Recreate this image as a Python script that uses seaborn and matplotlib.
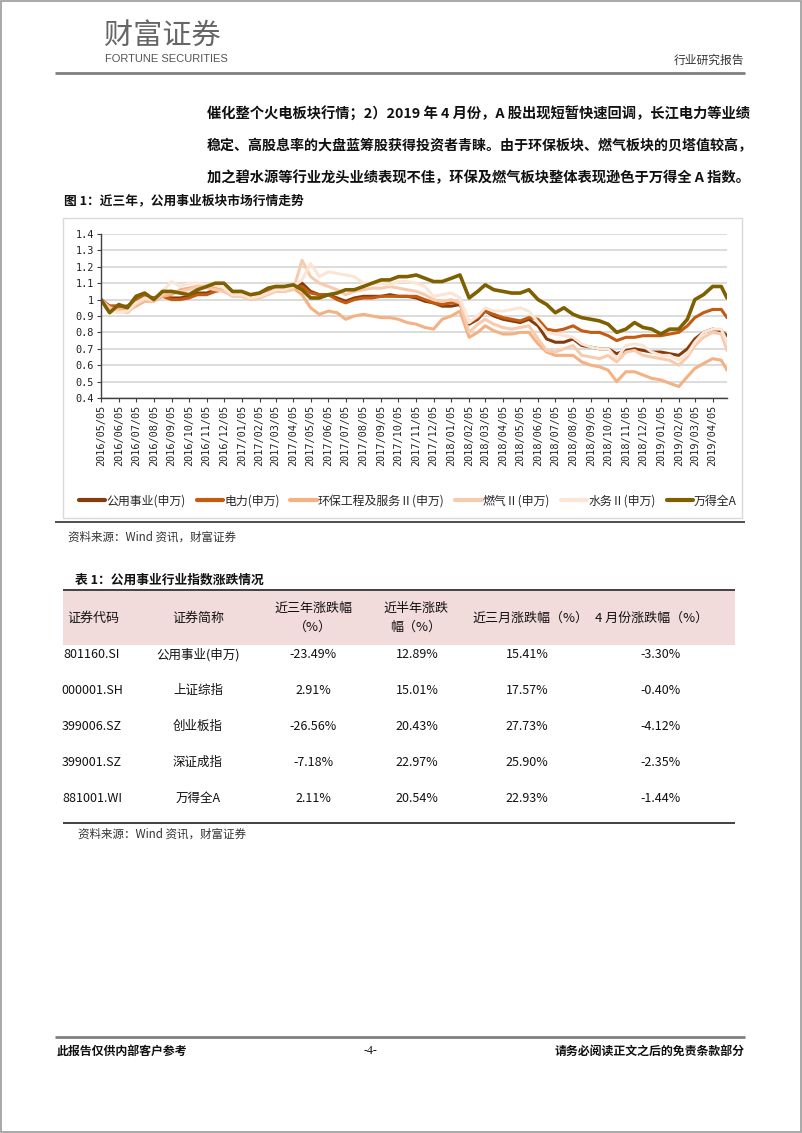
import numpy as np
import pandas as pd
import matplotlib
matplotlib.use("Agg")
import matplotlib.pyplot as plt
import seaborn as sns
from matplotlib.patches import Rectangle
from matplotlib.lines import Line2D

# ---------------- data ----------------
# semi-monthly sample dates (5th and 20th of each month) + last trading day
start = pd.Timestamp("2016-05-05")
dates = []
for k in range(36):
    d = start + pd.DateOffset(months=k)
    dates.append(d)
    dates.append(d + pd.Timedelta(days=15))
dates.append(pd.Timestamp("2019-04-30"))

series_names = ["公用事业(申万)", "电力(申万)", "环保工程及服务Ⅱ(申万)", "燃气Ⅱ(申万)", "水务Ⅱ(申万)", "万得全A"]

gongyong = [1.00, 0.96, 0.96, 0.96, 1.00, 1.02, 1.01, 1.03, 1.01, 1.01, 1.02, 1.04,
            1.04, 1.06, 1.06, 1.04, 1.03, 1.02, 1.03, 1.05, 1.06, 1.06, 1.07, 1.10,
            1.05, 1.03, 1.03, 1.01, 0.99, 1.01, 1.02, 1.02, 1.02, 1.03, 1.02, 1.02,
            1.01, 0.99, 0.98, 0.96, 0.96, 0.97, 0.85, 0.88, 0.93, 0.90, 0.88, 0.87,
            0.86, 0.88, 0.84, 0.76, 0.74, 0.74, 0.76, 0.72, 0.71, 0.70, 0.70, 0.67,
            0.69, 0.70, 0.69, 0.68, 0.68, 0.67, 0.66, 0.70, 0.76, 0.80, 0.82, 0.81,
            0.78]
dianli = [1.00, 0.96, 0.96, 0.95, 1.00, 1.02, 1.01, 1.02, 1.00, 1.00, 1.01, 1.03,
          1.03, 1.05, 1.06, 1.04, 1.03, 1.02, 1.03, 1.05, 1.06, 1.06, 1.07, 1.08,
          1.04, 1.03, 1.03, 1.00, 0.98, 1.00, 1.01, 1.01, 1.02, 1.02, 1.02, 1.02,
          1.02, 1.00, 0.98, 0.97, 0.98, 0.98, 0.86, 0.89, 0.93, 0.91, 0.89, 0.88,
          0.87, 0.89, 0.88, 0.82, 0.81, 0.82, 0.84, 0.81, 0.80, 0.80, 0.78, 0.75,
          0.77, 0.77, 0.78, 0.78, 0.78, 0.79, 0.80, 0.84, 0.89, 0.92, 0.94, 0.94,
          0.89]
huanbao = [1.00, 0.95, 0.94, 0.93, 0.96, 0.99, 0.99, 1.02, 1.03, 1.06, 1.07, 1.08,
           1.08, 1.07, 1.05, 1.03, 1.03, 1.01, 1.02, 1.04, 1.05, 1.05, 1.07, 1.03,
           0.95, 0.91, 0.93, 0.92, 0.88, 0.90, 0.91, 0.90, 0.89, 0.89, 0.88, 0.86,
           0.85, 0.83, 0.82, 0.88, 0.90, 0.93, 0.77, 0.80, 0.84, 0.81, 0.79, 0.79,
           0.80, 0.80, 0.73, 0.68, 0.66, 0.66, 0.66, 0.62, 0.60, 0.59, 0.57, 0.50,
           0.56, 0.56, 0.54, 0.52, 0.51, 0.49, 0.47, 0.53, 0.58, 0.61, 0.64, 0.63,
           0.57]
ranqi = [1.00, 0.95, 0.93, 0.92, 0.97, 1.00, 0.99, 1.03, 1.05, 1.05, 1.06, 1.08,
         1.07, 1.06, 1.05, 1.02, 1.02, 1.00, 1.01, 1.03, 1.05, 1.05, 1.06, 1.24,
         1.14, 1.10, 1.08, 1.06, 1.03, 1.05, 1.06, 1.07, 1.07, 1.08, 1.07, 1.06,
         1.05, 1.03, 1.00, 0.99, 1.00, 0.98, 0.80, 0.85, 0.88, 0.85, 0.83, 0.82,
         0.83, 0.84, 0.76, 0.69, 0.68, 0.70, 0.72, 0.66, 0.65, 0.64, 0.66, 0.62,
         0.68, 0.69, 0.66, 0.65, 0.64, 0.63, 0.60, 0.65, 0.72, 0.77, 0.80, 0.79,
         0.69]
shuiwu = [1.00, 0.93, 0.92, 0.93, 0.98, 1.01, 1.00, 1.05, 1.11, 1.08, 1.10, 1.10,
          1.09, 1.09, 1.07, 1.03, 1.03, 1.01, 1.02, 1.04, 1.06, 1.06, 1.08, 1.12,
          1.22, 1.14, 1.17, 1.16, 1.15, 1.14, 1.10, 1.10, 1.10, 1.09, 1.11, 1.11,
          1.10, 1.08, 1.02, 1.03, 1.04, 1.01, 0.86, 0.90, 0.95, 0.93, 0.93, 0.94,
          0.95, 0.93, 0.86, 0.80, 0.79, 0.78, 0.77, 0.73, 0.71, 0.70, 0.70, 0.64,
          0.72, 0.73, 0.72, 0.68, 0.66, 0.66, 0.63, 0.67, 0.74, 0.80, 0.82, 0.82,
          0.74]
wande = [1.00, 0.92, 0.97, 0.95, 1.02, 1.04, 1.00, 1.05, 1.05, 1.04, 1.03, 1.06,
         1.08, 1.10, 1.10, 1.05, 1.05, 1.03, 1.04, 1.07, 1.08, 1.08, 1.09, 1.06,
         1.01, 1.01, 1.03, 1.04, 1.06, 1.06, 1.08, 1.10, 1.12, 1.12, 1.14, 1.14,
         1.15, 1.13, 1.11, 1.11, 1.13, 1.15, 1.01, 1.05, 1.09, 1.06, 1.05, 1.04,
         1.04, 1.06, 1.00, 0.97, 0.92, 0.95, 0.91, 0.89, 0.88, 0.87, 0.85, 0.80,
         0.82, 0.86, 0.83, 0.82, 0.79, 0.82, 0.82, 0.88, 1.00, 1.03, 1.08, 1.08,
         1.01]

series_values = [gongyong, dianli, huanbao, ranqi, shuiwu, wande]
series_colors = ["#843C0C", "#C55A11", "#F4B183", "#F8CBAD", "#FBE5D6", "#7F6000"]

ytick_vals = [0.4, 0.5, 0.6, 0.7, 0.8, 0.9, 1.0, 1.1, 1.2, 1.3, 1.4]
ytick_labels = ["0.4", "0.5", "0.6", "0.7", "0.8", "0.9", "1", "1.1", "1.2", "1.3", "1.4"]
xtick_dates = [start + pd.DateOffset(months=k) for k in range(36)]
xtick_labels = [d.strftime("%Y/%m/%d") for d in xtick_dates]

table_header = ["证券代码", "证券简称", "近三年涨跌幅\n（%）", "近半年涨跌\n幅（%）", "近三月涨跌幅（%）", "4 月份涨跌幅（%）"]
table_codes = ["801160.SI", "000001.SH", "399006.SZ", "399001.SZ", "881001.WI"]
table_names = ["公用事业(申万)", "上证综指", "创业板指", "深证成指", "万得全A"]
chg_3y = ["-23.49%", "2.91%", "-26.56%", "-7.18%", "2.11%"]
chg_6m = ["12.89%", "15.01%", "20.43%", "22.97%", "20.54%"]
chg_3m = ["15.41%", "17.57%", "27.73%", "25.90%", "22.93%"]
chg_apr = ["-3.30%", "-0.40%", "-4.12%", "-2.35%", "-1.44%"]

paragraph = [
    "催化整个火电板块行情；2）2019 年 4 月份，A 股出现短暂快速回调，长江电力等业绩",
    "稳定、高股息率的大盘蓝筹股获得投资者青睐。由于环保板块、燃气板块的贝塔值较高，",
    "加之碧水源等行业龙头业绩表现不佳，环保及燃气板块整体表现逊色于万得全 A 指数。",
]
paragraph_sizes = [10.3, 10.1, 10.3]

# ---------------- style ----------------
sns.set_theme(style="white")
plt.rcParams["font.family"] = ["Noto Sans CJK SC", "DejaVu Sans"]
plt.rcParams["axes.unicode_minus"] = False

W, H = 802, 1133
fig = plt.figure(figsize=(W / 100, H / 100), dpi=100)
fig.patch.set_facecolor("white")


def fx(x):
    return x / W


def fy(y):
    return 1 - y / H


def hline(x0, x1, y, color, lw):
    fig.add_artist(Line2D([fx(x0), fx(x1)], [fy(y), fy(y)], transform=fig.transFigure,
                          color=color, lw=lw, solid_capstyle="butt"))


# page border
fig.add_artist(Rectangle((0.001, 0.001), 0.998, 0.998, transform=fig.transFigure,
                         fill=False, ec="#9a9a9a", lw=1.2))

# ---------------- header ----------------
fig.text(fx(104), fy(36), "财富证券", fontsize=21, color="#666666", fontweight="normal",
         va="center", ha="left")
fig.text(fx(105), fy(59), "FORTUNE SECURITIES", fontsize=8.0, color="#555555",
         family=["Liberation Sans Narrow", "Liberation Sans"], va="center", ha="left")
fig.text(fx(744), fy(60), "行业研究报告", fontsize=8.5, color="#333333", va="center", ha="right")
hline(55, 745, 73, "#7f7f7f", 2.0)

# paragraph
for i, line in enumerate(paragraph):
    fig.text(fx(207), fy(114 + 32 * i), line, fontsize=paragraph_sizes[i], fontweight="bold",
             color="#111111", va="center", ha="left")

fig.text(fx(64), fy(201), "图 1：近三年，公用事业板块市场行情走势", fontsize=9.2,
         fontweight="bold", color="#111111", va="center", ha="left")

# chart frame
fig.add_artist(Rectangle((fx(63), fy(518)), fx(742) - fx(63), fy(218) - fy(518),
                         transform=fig.transFigure, fill=False, ec="#d9d9d9", lw=1.0))

# ---------------- chart ----------------
ax = fig.add_axes([fx(101), fy(398), fx(727) - fx(101), fy(234) - fy(398)])
ax.set_facecolor("white")
widths = [2.2, 2.2, 2.2, 2.2, 2.2, 2.6]
for name, vals, col, lw in zip(series_names, series_values, series_colors, widths):
    sns.lineplot(x=dates, y=vals, ax=ax, color=col, linewidth=lw, label=name)

handles, labels = ax.get_legend_handles_labels()
if ax.get_legend() is not None:
    ax.get_legend().remove()

ax.set_ylim(0.4, 1.4)
ax.set_xlim(pd.Timestamp("2016-05-05"), pd.Timestamp("2019-04-30"))
ax.set_yticks(ytick_vals)
ax.set_yticklabels(ytick_labels, family="DejaVu Sans Mono", fontsize=7.4, color="#222222")
ax.set_xticks(xtick_dates)
ax.set_xticklabels(xtick_labels, rotation=90, family="DejaVu Sans Mono", fontsize=7.4,
                   color="#222222")
ax.set_xlabel("")
ax.set_ylabel("")
ax.yaxis.grid(True, color="#d9d9d9", lw=1.3)
ax.xaxis.grid(False)
ax.set_axisbelow(True)
for s in ["top", "right"]:
    ax.spines[s].set_visible(False)
for s in ["left", "bottom"]:
    ax.spines[s].set_color("#404040")
    ax.spines[s].set_linewidth(1.0)
ax.tick_params(axis="both", direction="out", length=3, width=0.8, color="#404040", pad=2,
               bottom=True, left=True)

leg = fig.legend(handles, labels, loc="center", bbox_to_anchor=(fx(408), fy(501)),
                 ncol=6, frameon=False, fontsize=8.6, handlelength=2.2, handletextpad=0.1,
                 columnspacing=0.9)
for lh in leg.get_lines():
    lh.set_linewidth(3.0)

hline(55, 745, 522, "#404040", 1.3)
fig.text(fx(68), fy(537), "资料来源：Wind 资讯，财富证券", fontsize=8.3, style="italic",
         color="#333333", va="center", ha="left")

# ---------------- table ----------------
fig.text(fx(75), fy(580), "表 1：公用事业行业指数涨跌情况", fontsize=9.2, fontweight="bold",
         color="#111111", va="center", ha="left")
fig.add_artist(Rectangle((fx(63), fy(645)), fx(735) - fx(63), fy(591) - fy(645),
                         transform=fig.transFigure, fc="#f2dcdb", ec="none"))
hline(63, 735, 590, "#404040", 1.4)
hline(63, 735, 823, "#404040", 1.4)

col_x = [93, 198, 313, 416, 530, 652]
data_x = [92, 198, 313, 417, 527, 661]
for cx, head in zip(col_x, table_header):
    fig.text(fx(cx), fy(618), head, fontsize=9.4, color="#111111", va="center",
             ha="center", linespacing=1.6)

row_y = [655, 690, 726, 762, 798]
num_family = ["Liberation Sans Narrow", "Noto Sans CJK SC"]
for i, y in enumerate(row_y):
    fig.text(fx(data_x[0]), fy(y), table_codes[i], fontsize=9, family=num_family,
             color="#111111", va="center", ha="center")
    fig.text(fx(data_x[1]), fy(y), table_names[i], fontsize=9, color="#111111",
             va="center", ha="center")
    for j, col in enumerate([chg_3y, chg_6m, chg_3m, chg_apr]):
        fig.text(fx(data_x[2 + j]), fy(y), col[i], fontsize=9, family=num_family,
                 color="#111111", va="center", ha="center")

fig.text(fx(78), fy(834), "资料来源：Wind 资讯，财富证券", fontsize=8.3, style="italic",
         color="#333333", va="center", ha="left")

# ---------------- footer ----------------
hline(55, 745, 1037, "#7f7f7f", 2.0)
fig.text(fx(57), fy(1051), "此报告仅供内部客户参考", fontsize=8.6, fontweight="bold",
         color="#111111", va="center", ha="left")
fig.text(fx(370), fy(1051), "-4-", fontsize=8.6, color="#111111", va="center", ha="center",
         family=["Liberation Serif"])
fig.text(fx(745), fy(1051), "请务必阅读正文之后的免责条款部分", fontsize=8.6, fontweight="bold",
         color="#111111", va="center", ha="right")

fig.savefig("out.png", dpi=100, facecolor="white")
